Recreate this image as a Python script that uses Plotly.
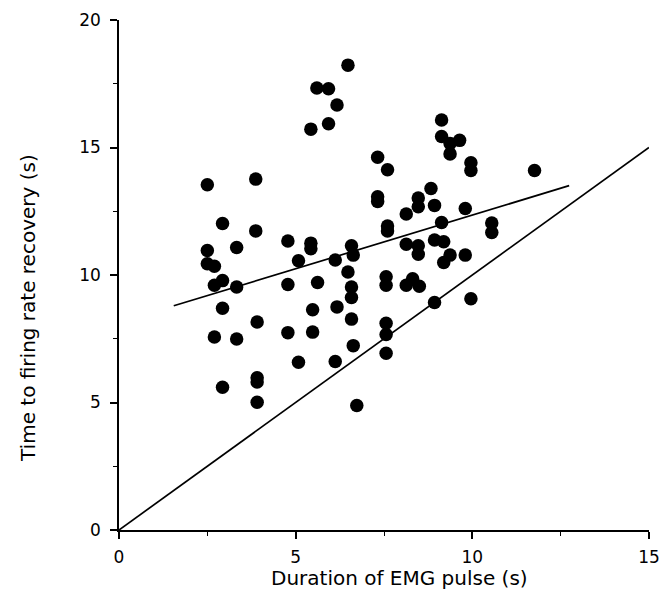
import plotly.graph_objects as go

# Duration of EMG pulse (s) and time to firing rate recovery (s)
duration = [2.50, 2.50, 2.50, 2.70, 2.70, 2.70, 2.93, 2.93, 2.93, 2.93,
            3.33, 3.33, 3.33, 3.87, 3.87, 3.91, 3.91, 3.91, 3.91, 4.78,
            4.78, 4.78, 5.08, 5.08, 5.43, 5.43, 5.43, 5.48, 5.48, 5.60,
            5.62, 5.93, 5.93, 6.17, 6.12, 6.17, 6.12, 6.48, 6.48, 6.58,
            6.63, 6.58, 6.58, 6.58, 6.63, 6.73, 7.32, 7.32, 7.32, 7.60,
            7.60, 7.60, 7.56, 7.56, 7.56, 7.56, 7.56, 8.13, 8.13, 8.13,
            8.31, 8.47, 8.47, 8.47, 8.47, 8.50, 8.83, 8.93, 8.93, 8.93,
            9.13, 9.13, 9.13, 9.19, 9.19, 9.37, 9.37, 9.37, 9.64, 9.80,
            9.80, 9.96, 9.96, 9.96, 10.55, 10.55, 11.76]
recovery = [13.54, 10.96, 10.44, 10.34, 9.60, 7.57, 12.02, 9.78, 8.70, 5.60,
            11.08, 9.53, 7.49, 13.76, 11.73, 8.16, 5.97, 5.80, 5.01, 11.33,
            9.63, 7.74, 10.56, 6.58, 15.72, 11.25, 11.03, 8.64, 7.76, 17.33,
            9.71, 17.30, 15.93, 16.67, 10.59, 8.75, 6.61, 18.23, 10.12, 11.15,
            10.78, 9.53, 9.12, 8.27, 7.23, 4.88, 14.62, 13.07, 12.88, 14.13,
            11.92, 11.73, 9.93, 9.60, 8.11, 7.67, 6.93, 12.39, 11.21, 9.60,
            9.85, 13.02, 12.68, 11.15, 10.81, 9.56, 13.39, 12.73, 11.37, 8.92,
            16.08, 15.43, 12.06, 11.30, 10.49, 15.16, 14.75, 10.78, 15.28, 12.61,
            10.78, 14.40, 14.10, 9.07, 12.04, 11.67, 14.10]

# Linear regression fit drawn across the data span
fit_x = [1.55, 12.74]
fit_slope = 0.421
fit_intercept = 8.14

# Line of identity
identity_x = [0, 15]

x_title = "Duration of EMG pulse (s)"
y_title = "Time to firing rate recovery (s)"

fig = go.Figure()

fig.add_trace(go.Scatter(
    x=identity_x, y=identity_x, mode="lines",
    line=dict(color="black", width=1.7), hoverinfo="skip", showlegend=False))

fig.add_trace(go.Scatter(
    x=fit_x, y=[fit_intercept + fit_slope * v for v in fit_x], mode="lines",
    line=dict(color="black", width=1.7), hoverinfo="skip", showlegend=False))

fig.add_trace(go.Scatter(
    x=duration, y=recovery, mode="markers",
    marker=dict(color="black", size=13.5, line=dict(width=0)),
    showlegend=False))

tick_font = dict(family="DejaVu Sans, sans-serif", size=17, color="black")
title_font = dict(family="DejaVu Sans, sans-serif", size=20, color="black")

fig.update_layout(
    width=669, height=590,
    margin=dict(l=119, r=20, t=20, b=60, autoexpand=False),
    paper_bgcolor="white", plot_bgcolor="white",
    font=tick_font,
    xaxis=dict(
        range=[0, 15], tickvals=[0, 5, 10, 15], showgrid=False, zeroline=False,
        showline=True, linecolor="black", linewidth=1.6, automargin=False,
        ticks="outside", ticklen=7, tickwidth=1.6, tickcolor="black",
        minor=dict(tickvals=[2.5, 7.5, 12.5], ticks="outside", ticklen=4,
                   tickwidth=1.3, tickcolor="black"),
        tickfont=tick_font, ticklabelstandoff=4,
    ),
    yaxis=dict(
        range=[0, 20], tickvals=[0, 5, 10, 15, 20], showgrid=False, zeroline=False,
        showline=True, linecolor="black", linewidth=1.6, automargin=False,
        ticks="outside", ticklen=7, tickwidth=1.6, tickcolor="black",
        minor=dict(tickvals=[2.5, 7.5, 12.5, 17.5], ticks="outside", ticklen=4,
                   tickwidth=1.3, tickcolor="black"),
        tickfont=tick_font, ticklabelstandoff=6,
    ),
    annotations=[
        dict(text=x_title, xref="paper", yref="paper", x=0.530, y=-0.094,
             xanchor="center", yanchor="middle", showarrow=False, font=title_font),
        dict(text=y_title, xref="paper", yref="paper", x=-0.172, y=0.435,
             xanchor="center", yanchor="middle", textangle=-90, showarrow=False,
             font=title_font),
    ],
)

fig.write_html("out.html")
